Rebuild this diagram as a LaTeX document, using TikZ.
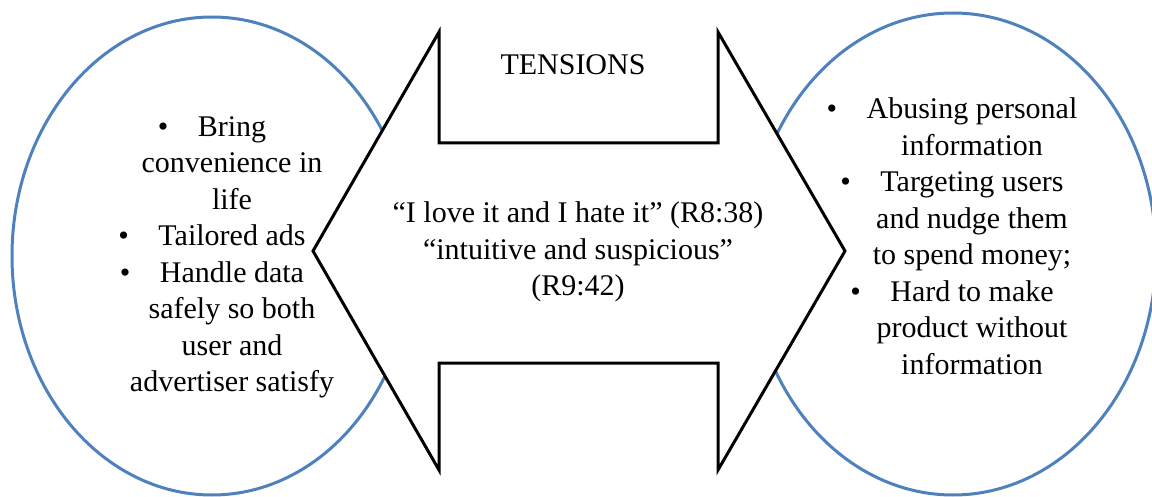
\documentclass[tikz,border=0pt]{standalone}
\usepackage{fontspec}
\setmainfont{Liberation Serif}
\usetikzlibrary{shapes.geometric}
\definecolor{ovalblue}{HTML}{4F81BD}
\begin{document}
\begin{tikzpicture}[x=1pt,y=-1pt,
  oval/.style={ellipse, draw=ovalblue, line width=3pt, inner sep=0pt},
  arrowline/.style={draw=black, line width=3pt, fill=white, line join=miter},
  txt/.style={inner sep=0pt, align=center, font=\fontsize{30}{36.5}\selectfont},
  bul/.style={}]
\newcommand{\bl}{\llap{\textbullet\hspace{29.5pt}}}
\clip (0,0) rectangle (1152,497);
\fill[white] (0,0) rectangle (1152,497);
% ovals
\node[oval, minimum width=400pt, minimum height=478pt] (leftoval) at (212,256) {};
\node[oval, minimum width=406pt, minimum height=482pt] (rightoval) at (953,254) {};
% double arrow
\coordinate (ltip) at (313,251);
\coordinate (lht) at (439,32);
\coordinate (lst) at (439,143);
\coordinate (rst) at (718,143);
\coordinate (rht) at (718,32);
\coordinate (rtip) at (845,251);
\coordinate (rhb) at (718,470);
\coordinate (rsb) at (718,363);
\coordinate (lsb) at (439,363);
\coordinate (lhb) at (439,470);
\draw[arrowline] (ltip) -- (lht) -- (lst) -- (rst) -- (rht) -- (rtip) -- (rhb) -- (rsb) -- (lsb) -- (lhb) -- cycle;
% texts
\node[txt, anchor=base] (title) at (573,75) {TENSIONS};
\node[txt] (quotes) at (578,252.2) {“I love it and I hate it” (R8:38)\\“intuitive and suspicious”\\(R9:42)};
\node[txt] (lefttext) at (232,257.5) {\bl Bring\\convenience in\\life\\\bl Tailored ads\\\bl Handle data\\safely so both\\user and\\advertiser satisfy};
\node[txt] (righttext) at (972,236) {\bl Abusing personal\\information\\\bl Targeting users\\and nudge them\\to spend money;\\\bl Hard to make\\product without\\information};
\end{tikzpicture}
\end{document}
